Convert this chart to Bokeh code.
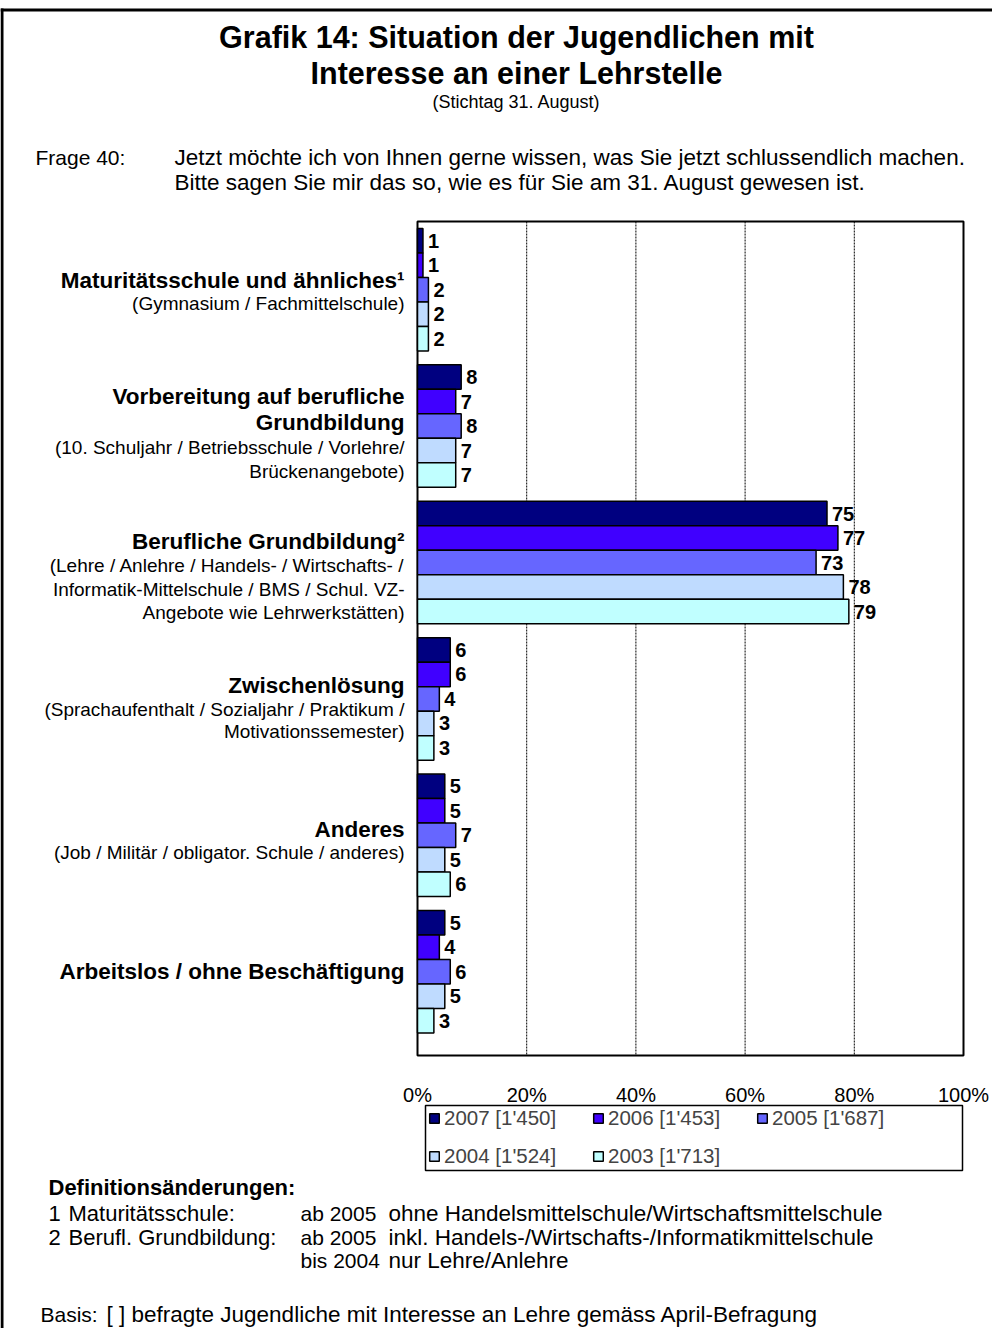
from bokeh.plotting import figure
from bokeh.models import ColumnDataSource, Range1d, Legend, LegendItem
from bokeh.embed import file_html
from bokeh.resources import INLINE
from bokeh.core.properties import value

FONT = "Liberation Sans"

# ---------------- data ----------------
category_keys = ["Maturitätsschule", "Vorbereitung", "Berufliche Grundbildung",
                 "Zwischenlösung", "Anderes", "Arbeitslos"]
series_labels = ["2007 [1'450]", "2006 [1'453]", "2005 [1'687]", "2004 [1'524]", "2003 [1'713]"]
series_colors = ["#000080", "#4000FF", "#6666FF", "#BFDBFF", "#C0FFFF"]
v2007 = [1, 8, 75, 6, 5, 5]
v2006 = [1, 7, 77, 6, 5, 4]
v2005 = [2, 8, 73, 4, 7, 6]
v2004 = [2, 7, 78, 3, 5, 5]
v2003 = [2, 7, 79, 3, 6, 3]
series_values = [v2007, v2006, v2005, v2004, v2003]
tick_values = [0, 20, 40, 60, 80, 100]
tick_labels = ["0%", "20%", "40%", "60%", "80%", "100%"]

category_lines = [
    [("Maturitätsschule und ähnliches¹", True), ("(Gymnasium / Fachmittelschule)", False)],
    [("Vorbereitung auf berufliche", True), ("Grundbildung", True),
     ("(10. Schuljahr / Betriebsschule / Vorlehre/", False), ("Brückenangebote)", False)],
    [("Berufliche Grundbildung²", True), ("(Lehre / Anlehre / Handels- / Wirtschafts- /", False),
     ("Informatik-Mittelschule / BMS / Schul. VZ-", False), ("Angebote wie Lehrwerkstätten)", False)],
    [("Zwischenlösung", True), ("(Sprachaufenthalt / Sozialjahr / Praktikum /", False),
     ("Motivationssemester)", False)],
    [("Anderes", True), ("(Job / Militär / obligator. Schule / anderes)", False)],
    [("Arbeitslos / ohne Beschäftigung", True)],
]

title_lines = ["Grafik 14: Situation der Jugendlichen mit", "Interesse an einer Lehrstelle"]
subtitle = "(Stichtag 31. August)"
question_label = "Frage 40:"
question_lines = ["Jetzt möchte ich von Ihnen gerne wissen, was Sie jetzt schlussendlich machen.",
                  "Bitte sagen Sie mir das so, wie es für Sie am 31. August gewesen ist."]
def_title = "Definitionsänderungen:"
def_rows = [
    ("1", "Maturitätsschule:", "ab 2005", "ohne Handelsmittelschule/Wirtschaftsmittelschule"),
    ("2", "Berufl. Grundbildung:", "ab 2005", "inkl. Handels-/Wirtschafts-/Informatikmittelschule"),
    ("", "", "bis 2004", "nur Lehre/Anlehre"),
]
basis_label = "Basis:"
basis_text = "[ ] befragte Jugendliche mit Interesse an Lehre gemäss April-Befragung"

# ---------------- layout (pixels of the picture) ----------------
W, H = 992, 1328
X0, PXX = 417, 5.46      # 0 % position and pixels per percent
Y0, PXY = 221, 136.4     # top of first category band and pixels per category
PLOT_BOTTOM = 1055
n_cat = len(category_keys)


def dx(X):
    return (X - X0) / PXX


def dy(Y):
    return (Y - Y0) / PXY


p = figure(width=W, height=H, x_range=Range1d(dx(0), dx(W)), y_range=Range1d(dy(H), dy(0)),
           output_backend="svg", toolbar_location=None,
           x_axis_location=None, y_axis_location=None, min_border=0)
p.grid.visible = False
p.outline_line_color = None
p.background_fill_color = "white"
p.border_fill_color = "white"

# outer frame of the page (top and left)
p.segment(x0=[dx(0), dx(1.5)], y0=[dy(9.5), dy(8)], x1=[dx(W), dx(1.5)], y1=[dy(9.5), dy(H)],
          line_color="black", line_width=3)

# plot box and dashed gridlines
y_bot = dy(PLOT_BOTTOM)
p.segment(x0=tick_values[1:-1], y0=[0] * 4, x1=tick_values[1:-1], y1=[y_bot] * 4,
          line_color="black", line_width=1, line_dash="2 1")
p.quad(left=[tick_values[0]], right=[tick_values[-1]], top=[0], bottom=[y_bot],
       fill_color=None, line_color="black", line_width=2)

# bars and value labels
bar_h = 122.5 / 5 / PXY
items = []
for j, (vals, lab, col) in enumerate(zip(series_values, series_labels, series_colors)):
    ys = [i + 0.5 + (j - 2) * bar_h for i in range(n_cat)]
    src = ColumnDataSource(dict(y=ys, right=vals, txt=[str(v) for v in vals]))
    r = p.hbar(y="y", left=0, right="right", height=bar_h, source=src,
               fill_color=col, line_color="black", line_width=1.5)
    p.text(x="right", y="y", text="txt", source=src, x_offset=5,
           text_baseline="middle", text_align="left",
           text_font=value(FONT), text_font_style="bold", text_font_size="20px",
           text_color="black")
    items.append(LegendItem(label=lab, renderers=[r]))

# x tick labels
p.text(x=tick_values, y=[dy(1094)] * len(tick_values), text=tick_labels,
       text_align="center", text_baseline="middle",
       text_font=value(FONT), text_font_size="20px", text_color="black")

# legend
p.quad(left=[dx(425)], right=[dx(962)], top=[dy(1105)], bottom=[dy(1170)],
       fill_color="white", line_color="black", line_width=1.5)
legend = Legend(items=items, location=(428, 160), orientation="horizontal", ncols=3)
legend.glyph_width = 12
legend.glyph_height = 12
legend.label_text_font = FONT
legend.label_text_font_size = "20.5px"
legend.label_standoff = 4
legend.label_width = 134
legend.label_height = 22
legend.spacing = 14
legend.padding = 5
legend.margin = 0
legend.border_line_color = None
legend.background_fill_alpha = 0
p.add_layout(legend)


def add_text(X, Y, text, size, bold=False, align="left"):
    p.text(x=[dx(X)], y=[dy(Y)], text=[text], text_font=value(FONT), text_font_size=size,
           text_font_style="bold" if bold else "normal",
           text_align=align, text_baseline="middle", text_color="black")


# title block
add_text(516, 36, title_lines[0], "30.5px", True, "center")
add_text(516, 72, title_lines[1], "30.5px", True, "center")
add_text(516, 101, subtitle, "18px", False, "center")
add_text(35, 157, question_label, "21px")
add_text(174, 157, question_lines[0], "22.5px")
add_text(174, 182, question_lines[1], "22.5px")

# category labels
cat_line_y = [
    [280, 303],
    [396, 422, 447, 471],
    [541, 565, 589, 612],
    [685, 709, 731],
    [829, 852],
    [971],
]
for lines, ys in zip(category_lines, cat_line_y):
    for (txt, bold), Y in zip(lines, ys):
        add_text(404, Y, txt, "22.5px" if bold else "19px", bold, "right")

# footnotes
add_text(48, 1187, def_title, "22px", True)
for (num, name, when, what), Y in zip(def_rows, [1213, 1237, 1260]):
    if num:
        add_text(48, Y, num, "22px")
        add_text(68, Y, name, "22px")
    add_text(300, Y, when, "21px")
    add_text(388, Y, what, "22.5px")
add_text(40, 1314, basis_label, "21px")
add_text(106, 1314, basis_text, "22.5px")

open("out.html", "w").write(file_html(p, INLINE))
